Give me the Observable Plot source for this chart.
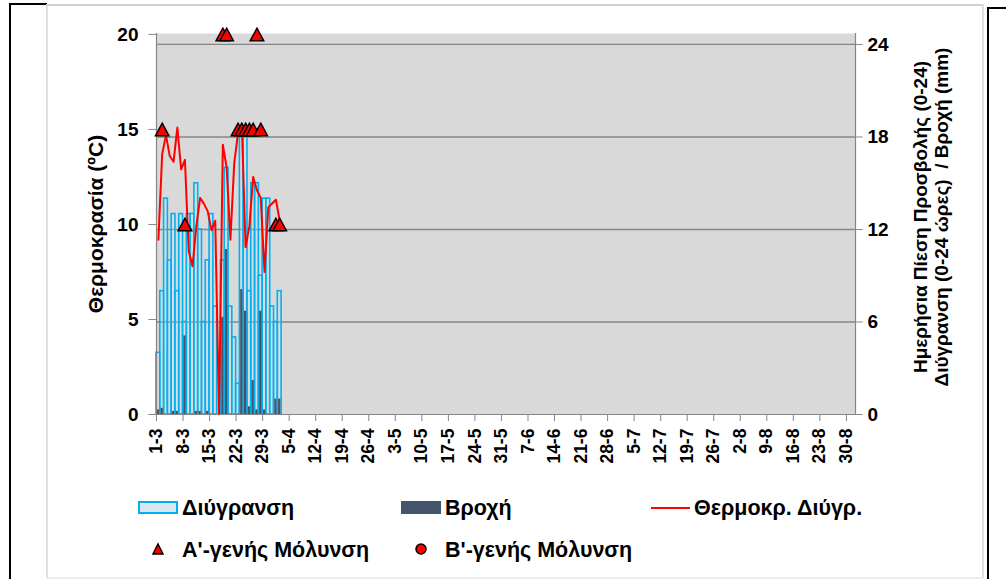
<!DOCTYPE html>
<html><head><meta charset="utf-8">
<script src="https://cdn.jsdelivr.net/npm/d3@7"></script>
<script src="https://cdn.jsdelivr.net/npm/@observablehq/plot@0.6"></script>
<style>
body{margin:0;background:#fff;font-family:"Liberation Sans",Arial,sans-serif;}
#wrap{position:relative;width:1006px;height:579px;overflow:hidden;background:#fff;}
#chart{position:absolute;left:0;top:0;}
.ln{position:absolute;}
.t{position:absolute;font-weight:bold;font-size:17px;color:#000;white-space:nowrap;line-height:20px;}
.lg{position:absolute;font-weight:bold;font-size:21.5px;color:#000;white-space:nowrap;line-height:24px;}
.rot{transform:translate(-50%,-50%) rotate(-90deg);text-align:center;}
</style></head><body><div id="wrap">
<div class="ln" style="left:9px;top:3px;width:2px;height:576px;background:#000"></div>
<div class="ln" style="left:9px;top:3px;width:38px;height:2px;background:#000"></div>
<div class="ln" style="left:46px;top:4px;width:2px;height:575px;background:#e0e0e0"></div>
<div class="ln" style="left:46px;top:4px;width:938px;height:2px;background:#d0d0d0"></div>
<div class="ln" style="left:982px;top:4px;width:2px;height:575px;background:#e0e0e0"></div>
<div class="ln" style="left:987px;top:7px;width:2px;height:572px;background:#000"></div>
<div class="ln" style="left:987px;top:7px;width:19px;height:2px;background:#000"></div>
<div class="ln" style="left:46px;top:577px;width:938px;height:2px;background:#ececec"></div>
<div id="chart"></div>
<div class="t rot" style="left:96px;top:224px;font-size:21px;line-height:24px;">Θερμοκρασία (ºC)</div>
<div class="t rot" style="left:931px;top:217px;font-size:19px;line-height:21px;">Ημερήσια Πίεση Προσβολής (0-24)<br>Διύγρανση (0-24 ώρες)&nbsp; / Βροχή (mm)</div>
<!-- legend -->
<div class="ln" style="left:138px;top:501px;width:40px;height:13px;box-sizing:border-box;background:#dce6f2;border:2px solid #00b0f0"></div>
<div class="lg" style="left:182px;top:496px;">Διύγρανση</div>
<div class="ln" style="left:401px;top:501px;width:40px;height:13px;background:#44546a"></div>
<div class="lg" style="left:445px;top:496px;">Βροχή</div>
<div class="ln" style="left:651px;top:507px;width:39px;height:2px;background:#ff0000"></div>
<div class="lg" style="left:694px;top:496px;">Θερμοκρ. Διύγρ.</div>
<svg class="ln" style="left:151px;top:542px" width="14" height="14"><path d="M7,2 L12,12 L2,12 Z" fill="#ff0000" stroke="#000" stroke-width="1.5"/></svg>
<div class="lg" style="left:182px;top:538px;">Α'-γενής Μόλυνση</div>
<svg class="ln" style="left:414px;top:542px" width="14" height="14"><circle cx="7" cy="7" r="5" fill="#ff0000" stroke="#000" stroke-width="1.5"/></svg>
<div class="lg" style="left:445px;top:538px;">Β'-γενής Μόλυνση</div>
</div>
<script>
// ---- data ----
const dates = ["1-3","2-3","3-3","4-3","5-3","6-3","7-3","8-3","9-3","10-3","11-3","12-3","13-3","14-3","15-3","16-3","17-3","18-3","19-3","20-3","21-3","22-3","23-3","24-3","25-3","26-3","27-3","28-3","29-3","30-3","31-3","1-4","2-4"];
const wetness = [4,8,14,10,13,8,13,6,13,13,15,12,6,10,13,7,0,10,16,7,5,2,18,18,8,15,15,9,14,14,7,6,8];
const rain    = [0.3,0.4,0,0,0.2,0.2,0,5.1,0,0,0.2,0.2,0,0.2,0,0,0,6.3,10.7,0,0,0,8.1,6.7,0.5,2.2,0.3,6.7,0.3,0,0,1,1];
const tempWet = [9.2,13.7,14.7,13.6,13.3,15.1,12.9,13.4,8.6,7.8,9.9,11.4,11.1,10.7,9.7,10.2,0,14.2,13,9.2,13.2,14.8,15.3,8.8,9.9,12.5,11.8,11.4,7.5,10.9,11.1,11.3,10.2];
const infADates  = ["2-3","8-3","18-3","19-3","22-3","23-3","24-3","25-3","26-3","27-3","28-3","1-4","2-4"];
const infALevels = [15,10,20,20,15,15,15,15,15,20,15,10,10];
const tickLabels = ["1-3","8-3","15-3","22-3","29-3","5-4","12-4","19-4","26-4","3-5","10-5","17-5","24-5","31-5","7-6","14-6","21-6","28-6","5-7","12-7","19-7","26-7","2-8","9-8","16-8","23-8","30-8"];
const leftTicks  = [0,5,10,15,20];
const rightTicks = [0,6,12,18,24];

// ---- helpers ----
const base = Date.UTC(2021,2,1);
const dayOf = s => { const [d,m] = s.split("-").map(Number); return (Date.UTC(2021,m-1,d)-base)/864e5; };
const RIGHT_MAX = 24.65, LEFT_MAX = 20;     // right axis units at left value 20
const conv = h => h * LEFT_MAX / RIGHT_MAX;
const XMAX = 184.4;

const rows = dates.map((d,i)=>({day:dayOf(d), wet:wetness[i], rain:rain[i], temp:tempWet[i]}));
const inf = infADates.map((d,i)=>({day:dayOf(d), level:infALevels[i]}));

const tri = {draw(ctx,size){const r=Math.sqrt(size/Math.PI);const w=r*1.3,h=r*1.2;ctx.moveTo(0,-h);ctx.lineTo(w,h);ctx.lineTo(-w,h);ctx.closePath();}};
const ff = '"Liberation Sans", Arial, sans-serif';
const fontX = {fontFamily:ff, fontSize:17.5, fontWeight:"bold", fill:"#000"};
const fontY = {fontFamily:ff, fontSize:19, fontWeight:"bold", fill:"#000"};
const axisGray = "#868686";

const chart = Plot.plot({
  width:1006, height:480,
  marginLeft:156, marginRight:151, marginTop:33, marginBottom:66,
  x:{domain:[0,XMAX], axis:null},
  y:{domain:[0,20.05], axis:null},
  style:{fontFamily:ff, fontSize:"17px", fontWeight:"bold", background:"transparent", color:"#000"},
  marks:[
    Plot.frame({fill:"#d9d9d9", stroke:null}),
    Plot.ruleY(rightTicks.filter(t=>t>0), {y:conv, stroke:axisGray, strokeWidth:1.3}),
    Plot.rectY(rows.filter(r=>r.wet>0), {x1:"day", x2:r=>r.day+1, y1:0, y2:r=>conv(r.wet), fill:"#dce6f2", fillOpacity:0.25, stroke:"#00b0f0", strokeWidth:1.6}),
    Plot.rectY(rows.filter(r=>r.rain>0), {x1:"day", x2:r=>r.day+1, y1:0, y2:r=>conv(r.rain), fill:"#44546a", insetLeft:0.8, insetRight:0.8}),
    Plot.line(rows, {x:r=>r.day+0.5, y:"temp", stroke:"#ff0000", strokeWidth:2}),
    Plot.ruleX([0, XMAX], {stroke:axisGray, strokeWidth:1.2}),
    Plot.ruleY([0], {stroke:axisGray, strokeWidth:1.2}),
    Plot.ruleY(leftTicks, {y:d=>d, x1:0, x2:-2, stroke:axisGray}),
    Plot.ruleY(rightTicks, {y:conv, x1:XMAX, x2:XMAX+2, stroke:axisGray}),
    Plot.ruleX(tickLabels, {x:dayOf, y1:0, y2:-0.37, stroke:axisGray}),
    Plot.text(leftTicks, {x:0, y:d=>d, text:d=>String(d), textAnchor:"end", dx:-18, ...fontY}),
    Plot.text(rightTicks, {x:XMAX, y:conv, text:d=>String(d), textAnchor:"start", dx:12, ...fontY}),
    Plot.text(tickLabels, {x:dayOf, y:-0.74, text:d=>d, rotate:-90, textAnchor:"end", ...fontX}),
    Plot.dot(inf, {x:r=>r.day+0.5, y:"level", symbol:tri, r:5.2, fill:"#ff0000", stroke:"#000", strokeWidth:1.5})
  ]
});
document.getElementById("chart").appendChild(chart);
</script>
</body></html>
